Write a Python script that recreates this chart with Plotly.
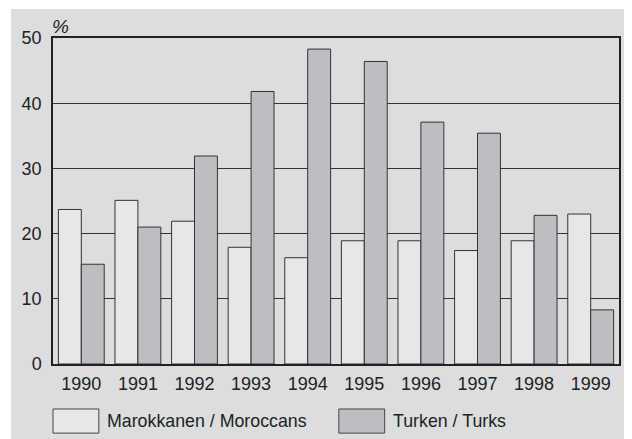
import plotly.graph_objects as go

# Data
years = ['1990', '1991', '1992', '1993', '1994', '1995', '1996', '1997', '1998', '1999']
moroccans = [23.7, 25.1, 21.9, 17.9, 16.3, 18.9, 18.9, 17.4, 18.9, 23.0]
turks = [15.3, 21.0, 31.9, 41.8, 48.3, 46.4, 37.1, 35.4, 22.8, 8.3]
series_names = ['Marokkanen / Moroccans', 'Turken / Turks']
y_ticks = [0, 10, 20, 30, 40, 50]

COLORS = ['#e6e7e9', '#bdbec1']
PANEL = '#dcdddf'
FONT = 'Liberation Sans, Arial, sans-serif'
TEXT = '#222222'

fig = go.Figure()

for name, values, color in zip(series_names, [moroccans, turks], COLORS):
    fig.add_trace(go.Bar(
        x=years,
        y=values,
        name=name,
        marker=dict(color=color, line=dict(color='#333333', width=1)),
        showlegend=False
    ))

# gray panel behind the plot area
fig.add_shape(type='rect', xref='paper', yref='paper',
              x0=-0.074, x1=1.05, y0=-0.26, y1=1.089,
              fillcolor=PANEL, line=dict(width=0), layer='below')

# hand-drawn legend with large swatches
legend_items = [(0.0, series_names[0], COLORS[0]), (0.505, series_names[1], COLORS[1])]
for x0, label, color in legend_items:
    fig.add_shape(type='rect', xref='paper', yref='paper',
                  x0=x0, x1=x0 + 0.081, y0=-0.212, y1=-0.138,
                  fillcolor=color, line=dict(color='#444444', width=1))
    fig.add_annotation(x=x0 + 0.095, y=-0.175, xref='paper', yref='paper',
                       text=label, showarrow=False, xanchor='left', yanchor='middle',
                       xshift=-2,
                       font=dict(size=17.8, color=TEXT, family=FONT))

# % unit label
fig.add_annotation(x=0.0, y=1.0, xref='paper', yref='paper',
                   text='<i>%</i>', showarrow=False, xanchor='left', yanchor='bottom',
                   xshift=-3, yshift=-1,
                   font=dict(size=19, color=TEXT, family=FONT))

fig.update_layout(
    width=624,
    height=431,
    margin=dict(l=45, r=11, t=30, b=75),
    paper_bgcolor='white',
    plot_bgcolor='white',
    barmode='group',
    bargap=0.19,
    bargroupgap=0,
    font=dict(family=FONT, size=17, color=TEXT),
    xaxis=dict(
        showline=True, linecolor='#222222', linewidth=1.5, mirror=True,
        ticks='', showgrid=False,
        tickfont=dict(size=18, color=TEXT),
        ticklabelstandoff=3
    ),
    yaxis=dict(
        range=[0, 50], tickvals=y_ticks,
        showline=True, linecolor='#222222', linewidth=1.5, mirror=True,
        showgrid=True, gridcolor='#333333', gridwidth=1,
        zeroline=False, ticks='',
        tickfont=dict(size=18, color=TEXT),
        ticklabelstandoff=6
    )
)

fig.write_html("out.html")
